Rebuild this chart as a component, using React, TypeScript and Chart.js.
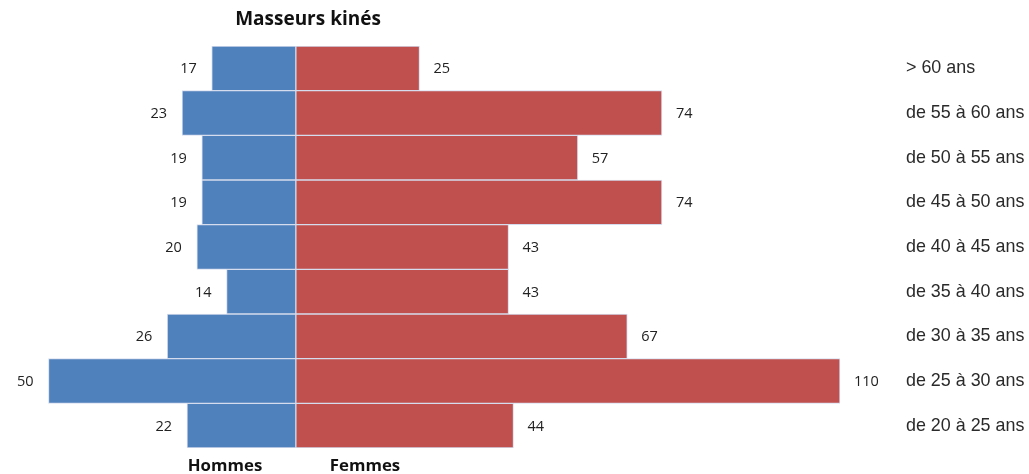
import React, { useEffect, useRef } from "react";
import { Chart, registerables } from "chart.js";

Chart.register(...registerables);

const categories = [
  "> 60 ans",
  "de 55 à 60 ans",
  "de 50 à 55 ans",
  "de 45 à 50 ans",
  "de 40 à 45 ans",
  "de 35 à 40 ans",
  "de 30 à 35 ans",
  "de 25 à 30 ans",
  "de 20 à 25 ans",
];
const hommes = [17, 23, 19, 19, 20, 14, 26, 50, 22];
const femmes = [25, 74, 57, 74, 43, 43, 67, 110, 44];

const TITLE = "Masseurs kinés";
const LABEL_H = "Hommes";
const LABEL_F = "Femmes";

const labelsPlugin = {
  id: "pyramidLabels",
  afterDatasetsDraw(chart: any) {
    const ctx = chart.ctx;
    const x = chart.scales.x;
    const y = chart.scales.y;
    ctx.save();
    ctx.fillStyle = "#222";
    ctx.font = "14.5px 'Open Sans', sans-serif";
    ctx.textBaseline = "middle";
    categories.forEach((c, i) => {
      const yc = y.getPixelForValue(i);
      ctx.textAlign = "right";
      ctx.fillText(String(hommes[i]), x.getPixelForValue(-hommes[i]) - 15, yc + 1);
      ctx.textAlign = "left";
      ctx.fillText(String(femmes[i]), x.getPixelForValue(femmes[i]) + 14, yc + 1);
    });
    ctx.font = "17.9px 'Liberation Sans', Arial, sans-serif";
    ctx.fillStyle = "#2a2a2a";
    ctx.textAlign = "left";
    categories.forEach((c, i) => {
      const yc = y.getPixelForValue(i);
      ctx.fillText(c, 906, yc);
    });
    ctx.font = "bold 19px 'Open Sans', sans-serif";
    ctx.textAlign = "center";
    ctx.fillStyle = "#111";
    ctx.fillText(TITLE, 308, 20);
    ctx.font = "bold 16.8px 'Open Sans', sans-serif";
    ctx.fillText(LABEL_H, 225, 466);
    ctx.fillText(LABEL_F, 365, 466);
    ctx.restore();
  },
};

export default function App() {
  const ref = useRef<HTMLCanvasElement>(null);
  useEffect(() => {
    if (!ref.current) return;
    const chart = new Chart(ref.current, {
      type: "bar",
      data: {
        labels: categories,
        datasets: [
          {
            label: LABEL_H,
            data: hommes.map((v) => -v),
            backgroundColor: "#4F81BD",
            borderColor: "#D5DCEE",
            borderWidth: 1,
            borderSkipped: false,
          },
          {
            label: LABEL_F,
            data: femmes,
            backgroundColor: "#C0504D",
            borderColor: "#D5DCEE",
            borderWidth: 1,
            borderSkipped: false,
          },
        ],
      },
      options: {
        indexAxis: "y",
        animation: false,
        responsive: false,
        maintainAspectRatio: false,
        layout: { padding: { left: 47, right: 189, top: 46, bottom: 26 } },
        datasets: { bar: { barPercentage: 1, categoryPercentage: 1 } },
        scales: {
          x: { stacked: true, min: -50.3, max: 110, display: false },
          y: { stacked: true, display: false },
        },
        plugins: { legend: { display: false }, tooltip: { enabled: false }, title: { display: false } },
      },
      plugins: [labelsPlugin],
    });
    return () => chart.destroy();
  }, []);
  return (
    <div style={{ position: "absolute", left: 0, top: 0, width: 1029, height: 474, background: "#fff" }}>
      <canvas ref={ref} width={1029} height={474} style={{ width: 1029, height: 474 }} />
    </div>
  );
}
